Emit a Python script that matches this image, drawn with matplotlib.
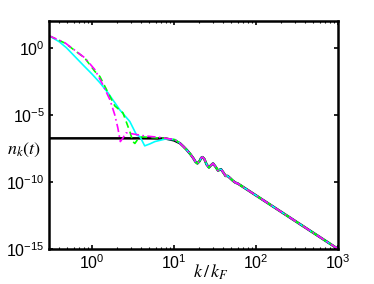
import matplotlib
matplotlib.use('Agg')
import matplotlib.pyplot as plt
from matplotlib.ticker import FixedLocator, LogLocator, NullFormatter
import numpy as np

plt.rcParams['font.family'] = 'Liberation Sans'
plt.rcParams['mathtext.fontset'] = 'custom'
plt.rcParams['mathtext.rm'] = 'Liberation Sans'
plt.rcParams['mathtext.it'] = 'Liberation Sans:italic'

# shared large-k tail (k / kF, log10 n_k)
k_tail = [11.8, 13, 14.3, 15.8, 17.2, 18.3, 19.3, 20.5, 21.5, 22.3, 23.5, 25, 26.7,
          28.3, 29.9, 32, 34.4, 36, 37.4, 40, 42.5, 45, 48, 52, 56, 60, 1000]
logn_tail = [-7.11, -7.35, -7.61, -7.92, -8.23, -8.5, -8.62, -8.45, -8.2, -8.15, -8.3,
             -8.7, -8.92, -8.75, -8.62, -8.85, -9.15, -9.1, -9.05, -9.3, -9.55, -9.55,
             -9.7, -9.9, -10.05, -10.12, -15.0]

# initial (black) distribution, low-k part
k_init = [0.3, 2, 5, 8, 10]
logn_init = [-6.75, -6.75, -6.75, -6.77, -6.9]

# evolved distributions, low-k parts
k_cyan = [0.3, 0.4, 0.49, 0.62, 0.8, 1.0, 1.25, 1.57, 2.19, 2.9, 3.5, 3.85, 4.4, 5.1,
          5.86, 7.76, 10.3]
logn_cyan = [0.9, 0.45, 0.0, -0.65, -1.35, -1.95, -2.6, -3.36, -4.63, -5.5, -6.5, -6.62,
             -7.31, -7.16, -6.99, -6.81, -6.85]

k_green = [0.3, 0.47, 0.82, 1.09, 1.25, 1.9, 2.39, 2.9, 3.16, 3.34, 3.64, 4.06, 5.1, 7.8, 10.3]
logn_green = [0.9, 0.35, -0.77, -1.77, -2.14, -4.33, -4.85, -6.25, -7.0, -7.13, -6.8,
              -6.64, -6.68, -6.75, -6.85]

k_mag = [0.3, 0.47, 0.82, 1.09, 1.36, 1.66, 1.9, 2.07, 2.22, 2.39, 2.6, 3.16, 4.4, 6.7, 10.3]
logn_mag = [0.9, 0.37, -0.75, -1.64, -2.76, -3.88, -5.0, -5.97, -6.99, -6.72, -6.34,
            -6.42, -6.57, -6.68, -6.85]


def curve(k_low, logn_low):
    k = np.array(k_low + k_tail)
    n = 10.0 ** np.array(logn_low + logn_tail)
    return k, n


fig = plt.figure(figsize=(3.74, 2.84), dpi=100)
ax = fig.add_axes([0.131, 0.1232, 0.773, 0.803])

ax.loglog(*curve(k_init, logn_init), color='black', lw=1.8)
ax.loglog(*curve(k_cyan, logn_cyan), color='#00FFFF', lw=1.2)
ax.loglog(*curve(k_green, logn_green), color='#00FF00', lw=1.2, ls=(0, (4, 2.5)))
ax.loglog(*curve(k_mag, logn_mag), color='#FF00FF', lw=1.2, ls=(0, (5, 2, 1, 2)))

ax.set_xlim(0.3, 1000)
ax.set_ylim(1e-15, 1e2)
ax.yaxis.set_major_locator(FixedLocator([1e-15, 1e-10, 1e-5, 1e0]))
ax.yaxis.set_minor_locator(FixedLocator([]))
ax.xaxis.set_major_locator(FixedLocator([1, 10, 100, 1000]))
ax.xaxis.set_minor_locator(LogLocator(base=10, subs=np.arange(2, 10)))
ax.xaxis.set_minor_formatter(NullFormatter())
ax.set_yticklabels([r'$\mathrm{10^{-15}}$', r'$\mathrm{10^{-10}}$', r'$\mathrm{10^{-5}}$',
                    r'$\mathrm{10^{0}}$'])
ax.set_xticklabels([r'$\mathrm{10^{0}}$', r'$\mathrm{10^{1}}$', r'$\mathrm{10^{2}}$',
                    r'$\mathrm{10^{3}}$'])

ax.tick_params(which='both', direction='in', top=True, right=True, labelsize=11.5)
ax.tick_params(which='major', length=3, width=1.2, pad=3)
ax.tick_params(which='minor', length=1.5, width=0.8)
for s in ax.spines.values():
    s.set_linewidth(1.8)

fig.text(24 / 374, 1 - 150 / 284, r'$n_k(t)$', fontsize=13, ha='center', va='center',
         math_fontfamily='stix')
fig.text(211 / 374, 1 - 272 / 284, r'$k\,/\,k_F$', fontsize=13, ha='center', va='center',
         math_fontfamily='stix')

fig.savefig('out.png', dpi=100)
